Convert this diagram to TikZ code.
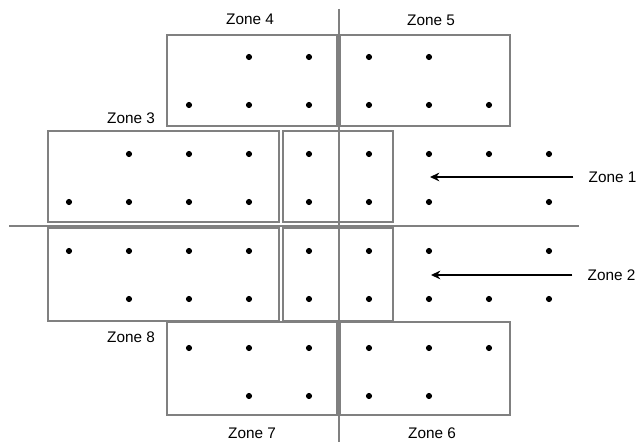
\documentclass[tikz,border=0pt]{standalone}
\usepackage{fontspec}
\setmainfont{Liberation Sans}
\usetikzlibrary{arrows.meta}

\begin{document}
\begin{tikzpicture}[x=0.75pt, y=-0.75pt,
        every node/.style={font=\fontsize{11.5}{13}\selectfont},
        zonebox/.style={draw=gray, line width=1.3pt},
        divider/.style={draw=gray, line width=0.9pt},
        dot/.style={circle, fill=black, inner sep=0pt, minimum size=4.6pt},
        pointer/.style={-{Stealth[length=7pt, width=6.5pt]}, line width=1.9pt, shorten <=8pt}]
        \useasboundingbox (0,0) rectangle (636,445);

        % zone boxes
        \draw[zonebox] (167,35) rectangle (337,126);
        \draw[zonebox] (340,35) rectangle (510,126);
        \draw[zonebox] (48,131) rectangle (279,222);
        \draw[zonebox] (283,131) rectangle (393,222);
        \draw[zonebox] (48,228) rectangle (279,321);
        \draw[zonebox] (283,228) rectangle (393,321);
        \draw[zonebox] (167,322) rectangle (337,415);
        \draw[zonebox] (340,322) rectangle (510,415);

        % axes
        \draw[divider] (339,9) -- (339,442);
        \draw[divider] (9,226) -- (579,226);

        % sensor dots, row by row
        \foreach \c in {4,...,7} \node[dot] (d1-\c) at (9+60*\c,57) {};
        \foreach \c in {3,...,8} \node[dot] (d2-\c) at (9+60*\c,105) {};
        \foreach \c in {2,...,9} \node[dot] (d3-\c) at (9+60*\c,154) {};
        \foreach \c in {1,...,7,9} \node[dot] (d4-\c) at (9+60*\c,202) {};
        \foreach \c in {1,...,7,9} \node[dot] (d5-\c) at (9+60*\c,251) {};
        \foreach \c in {2,...,9} \node[dot] (d6-\c) at (9+60*\c,299) {};
        \foreach \c in {3,...,8} \node[dot] (d7-\c) at (9+60*\c,348) {};
        \foreach \c in {4,...,7} \node[dot] (d8-\c) at (9+60*\c,396) {};

        % labels
        \node (zone4) at (250,19) {Zone 4};
        \node (zone5) at (431,20) {Zone 5};
        \node (zone3) at (131,118) {Zone 3};
        \node (zone8) at (131,337) {Zone 8};
        \node (zone7) at (252,433) {Zone 7};
        \node (zone6) at (432,433) {Zone 6};
        \node[anchor=west] (zone1) at (584,177) {Zone 1};
        \node[anchor=west] (zone2) at (583,275) {Zone 2};

        \coordinate (tip1) at (430,177);
        \coordinate (tip2) at (431,275);
        \draw[pointer] (zone1.west) -- (tip1);
        \draw[pointer] (zone2.west) -- (tip2);
    \end{tikzpicture}
\end{document}
